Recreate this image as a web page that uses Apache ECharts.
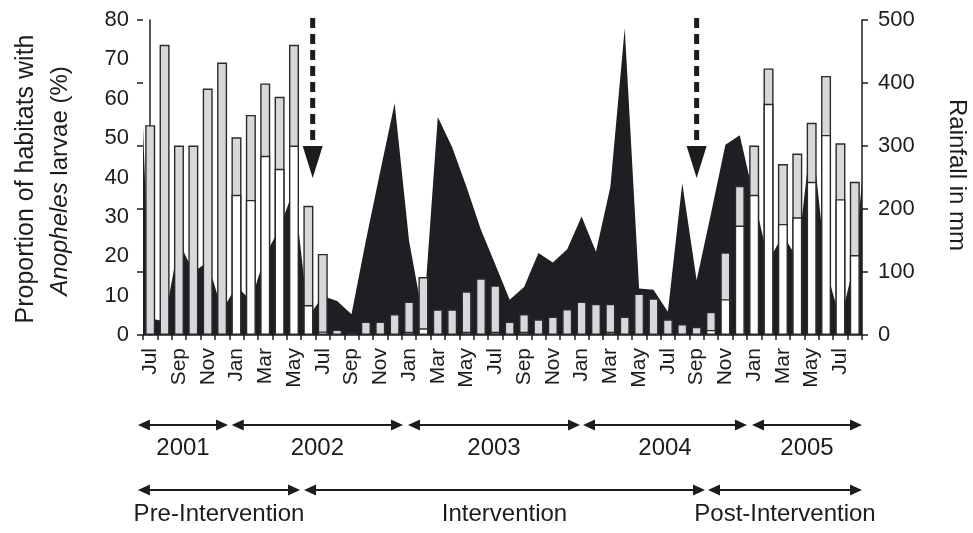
<!DOCTYPE html>
<html><head><meta charset="utf-8">
<script src="https://cdn.jsdelivr.net/npm/echarts@6/dist/echarts.min.js"></script>
<style>html,body{margin:0;padding:0;background:#fff}#c{width:973px;height:533px}</style>
</head><body><div id="c"></div>
<script>
// ---- data ----
const months = ['Jul','Aug','Sep','Oct','Nov','Dec',
  'Jan','Feb','Mar','Apr','May','Jun','Jul','Aug','Sep','Oct','Nov','Dec',
  'Jan','Feb','Mar','Apr','May','Jun','Jul','Aug','Sep','Oct','Nov','Dec',
  'Jan','Feb','Mar','Apr','May','Jun','Jul','Aug','Sep','Oct','Nov','Dec',
  'Jan','Feb','Mar','Apr','May','Jun','Jul','Aug'];
// total proportion of habitats with Anopheles larvae (%) - grey bar top
const totalPct = [53.3,73.7,48.1,48.1,62.6,69.2,
  50.2,55.9,63.9,60.5,73.7,32.8,20.6,1.4,0.7,3.4,3.4,5.3,
  8.5,14.7,6.5,6.5,11.1,14.4,12.6,3.4,5.3,4.0,4.7,6.6,
  8.5,7.9,7.9,4.7,10.5,9.3,4.0,2.8,2.1,5.9,21.0,37.9,
  48.1,67.7,43.4,46.1,53.9,65.8,48.7,38.9];
// white (lower) part of each bar (%)
const whitePct = [0,0,0,0,0,0,
  35.6,34.3,45.5,42.2,48.1,7.6,0.9,0,0,0,0,0,
  0.8,1.7,0,0,0.8,0,0.8,0,0.8,0,0,0,
  0,0,0.8,0,0,0,0,0,0,1.3,9.1,27.8,
  35.6,58.7,28.2,29.9,38.9,50.8,34.5,20.3];
// monthly rainfall (mm)
const rainfall = [26,22,148,100,116,38,
  78,54,126,170,232,28,62,54,33,150,260,368,
  150,25,346,298,235,167,112,56,76,130,115,136,
  188,132,235,487,74,72,37,241,87,193,302,317,
  217,117,159,121,323,105,23,117];
const rainLeftEdge = 330;  // rainfall shown at the left edge of the plot
const rainRightEdge = 245; // rainfall shown at the right edge of the plot
const leftTickLabels = [0,10,20,30,40,50,60,70,80];
const rightTickLabels = [0,100,200,300,400,500];
const years = ['2001','2002','2003','2004','2005'];
const phases = ['Pre-Intervention','Intervention','Post-Intervention'];

// ---- annotation layout (in month-index units) ----
const yearSpans = [[-0.85,5.41],[5.67,17.58],[17.93,29.89],[30.1,41.5],[41.85,49.5]];
const phaseSpans = [[-0.85,10.42],[10.7,38.58],[38.79,49.5]];
const interventionMarks = [11.3, 38.0];

const FONT = '"Liberation Sans", Arial, sans-serif';
const INK = '#1c1c1f';

const chart = echarts.init(document.getElementById('c'), null, {renderer:'canvas'});

const rainPoints = [[-0.5, rainLeftEdge]]
  .concat(rainfall.map((v,i)=>[i,v]))
  .concat([[49.5, rainRightEdge]]);

const option = {
  animation:false,
  backgroundColor:'#fff',
  grid:{left:143, right:111, top:20, bottom:198, containLabel:false},
  xAxis:[{
    type:'category', data:months, boundaryGap:true,
    axisLine:{show:true, lineStyle:{color:INK, width:1.5}},
    axisTick:{show:true, interval:0, length:5, lineStyle:{color:INK, width:1.5}},
    axisLabel:{interval:1, rotate:90, margin:13, fontSize:21, fontFamily:FONT, color:INK,
      padding:[0,0,9,0]},
    splitLine:{show:false}
  },{
    type:'value', min:-0.5, max:49.5, show:false
  }],
  yAxis:[{
    type:'value', position:'left', min:0, max:80, interval:10,
    axisLine:{show:true, lineStyle:{color:INK, width:1.5}},
    axisTick:{show:false},
    axisLabel:{margin:14, fontSize:22, fontFamily:FONT, color:INK},
    splitLine:{show:false}
  },{
    type:'value', position:'right', min:0, max:500, interval:100,
    axisLine:{show:true, lineStyle:{color:INK, width:1.5}},
    axisTick:{show:true, length:6, lineStyle:{color:INK, width:1.5}},
    axisLabel:{margin:16, fontSize:22, fontFamily:FONT, color:INK},
    splitLine:{show:false}
  },{
    type:'value', position:'left', min:0, max:500, interval:100,
    axisLine:{show:false},
    axisTick:{show:true, length:6, lineStyle:{color:INK, width:1.5}},
    axisLabel:{show:false},
    splitLine:{show:false}
  }],
  series:[{
    name:'Rainfall', type:'line', xAxisIndex:1, yAxisIndex:1,
    data:rainPoints, symbol:'none', z:1,
    lineStyle:{width:0, color:'#1e1f23'},
    areaStyle:{color:'#1e1f23', opacity:1}
  },{
    name:'Total', type:'bar', xAxisIndex:0, yAxisIndex:0,
    data:totalPct, barWidth:10, z:3,
    itemStyle:{color:'#d7d8da', borderColor:'#2a2a2d', borderWidth:1.4}
  },{
    name:'White', type:'bar', xAxisIndex:0, yAxisIndex:0,
    data:whitePct.map(v=> v>0 ? v : null), barWidth:10, barGap:'-100%', z:4,
    itemStyle:{color:'#ffffff', borderColor:'#2a2a2d', borderWidth:1.4}
  }]
};
chart.setOption(option);

// ---- annotations ----
function px(v){ return chart.convertToPixel({xAxisIndex:1}, v); }
function hArrow(x1,x2,y){
  const L=12,H=5.5;
  return [
    {type:'line', shape:{x1:x1+4,y1:y,x2:x2-4,y2:y}, style:{stroke:INK, lineWidth:2}},
    {type:'polygon', shape:{points:[[x1,y],[x1+L,y-H],[x1+L,y+H]]}, style:{fill:INK}},
    {type:'polygon', shape:{points:[[x2,y],[x2-L,y-H],[x2-L,y+H]]}, style:{fill:INK}}
  ];
}
const g = [];
yearSpans.forEach((s,i)=>{
  const a=px(s[0]), b=px(s[1]);
  g.push(...hArrow(a,b,425));
  g.push({type:'text', x:(a+b)/2, y:448, style:{text:years[i], font:'24px '+FONT, fill:INK, align:'center', verticalAlign:'middle'}});
});
phaseSpans.forEach((s,i)=>{
  const a=px(s[0]), b=px(s[1]);
  g.push(...hArrow(a,b,490));
  g.push({type:'text', x:(a+b)/2, y:514, style:{text:phases[i], font:'24px '+FONT, fill:INK, align:'center', verticalAlign:'middle'}});
});
interventionMarks.forEach(m=>{
  const x=px(m);
  g.push({type:'line', shape:{x1:x,y1:18,x2:x,y2:142}, style:{stroke:INK, lineWidth:5, lineDash:[10,6]}, z:10});
  g.push({type:'polygon', shape:{points:[[x-10,146],[x+10,146],[x,178]]}, style:{fill:INK}, z:10});
});
// axis titles
g.push({type:'text', x:26, y:179, rotation:Math.PI/2,
  style:{text:'Proportion of habitats with', font:'25px '+FONT, fill:INK, align:'center', verticalAlign:'middle'}});
g.push({type:'text', x:60, y:181, rotation:Math.PI/2,
  style:{text:'{i|Anopheles} larvae (%)', font:'24px '+FONT, fill:INK, align:'center', verticalAlign:'middle',
    rich:{i:{fontStyle:'italic', fontSize:24, fontFamily:FONT, fill:INK}}}});
g.push({type:'text', x:957, y:175, rotation:-Math.PI/2,
  style:{text:'Rainfall in mm', font:'24px '+FONT, fill:INK, align:'center', verticalAlign:'middle'}});
chart.setOption({graphic:{elements:g}});
</script>
</body></html>
